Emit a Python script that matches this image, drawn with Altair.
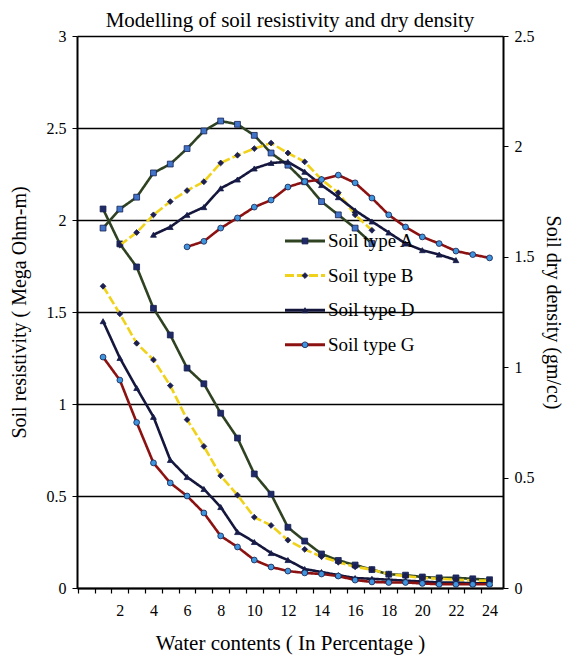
import altair as alt
import pandas as pd

# ---------------- data ----------------
water = list(range(1, 25))

res_A = [2.06, 1.87, 1.745, 1.52, 1.375, 1.195, 1.11, 0.95, 0.815, 0.62, 0.51, 0.33,
         0.255, 0.185, 0.15, 0.125, 0.10, 0.075, 0.07, 0.06, 0.055, 0.055, 0.05, 0.045]
res_B = [1.64, 1.49, 1.33, 1.24, 1.10, 0.915, 0.77, 0.61, 0.505, 0.385, 0.34, 0.26,
         0.21, 0.17, 0.14, 0.115, 0.10, 0.075, 0.065, 0.055, 0.05, 0.045, 0.04, 0.04]
res_D = [1.45, 1.25, 1.087, 0.93, 0.696, 0.603, 0.538, 0.44, 0.304, 0.25, 0.19, 0.152,
         0.103, 0.087, 0.07, 0.054, 0.05, 0.045, 0.04, 0.035, 0.03, 0.03, 0.025, 0.025]
res_G = [1.255, 1.13, 0.90, 0.68, 0.571, 0.50, 0.408, 0.283, 0.223, 0.152, 0.114, 0.092,
         0.082, 0.076, 0.065, 0.043, 0.033, 0.03, 0.03, 0.025, 0.02, 0.02, 0.02, 0.02]

dens_A_x = list(range(1, 18))
dens_A = [1.63, 1.716, 1.77, 1.88, 1.92, 1.99, 2.07, 2.115, 2.10, 2.05, 1.97, 1.915,
          1.84, 1.75, 1.69, 1.63, 1.56]
dens_B_x = list(range(2, 18))
dens_B = [1.553, 1.61, 1.69, 1.75, 1.80, 1.84, 1.925, 1.96, 1.99, 2.015, 1.97, 1.93,
          1.85, 1.79, 1.69, 1.62]
dens_D_x = list(range(4, 23))
dens_D = [1.60, 1.635, 1.69, 1.725, 1.81, 1.85, 1.90, 1.925, 1.93, 1.885, 1.825, 1.77,
          1.71, 1.66, 1.61, 1.56, 1.53, 1.51, 1.485]
dens_G_x = list(range(6, 25))
dens_G = [1.545, 1.57, 1.63, 1.676, 1.725, 1.757, 1.816, 1.84, 1.85, 1.87, 1.835, 1.766,
          1.69, 1.635, 1.59, 1.56, 1.526, 1.51, 1.495]

series = ["Soil type A", "Soil type B", "Soil type D", "Soil type G"]
left_ticks = [0, 0.5, 1, 1.5, 2, 2.5, 3]
right_ticks = [0, 0.5, 1, 1.5, 2, 2.5]
x_ticks = list(range(0, 25))

# ---------------- styling ----------------
FONT = "Liberation Serif, Times New Roman, serif"
line_colors = ["#2f4322", "#f0d21a", "#15163c", "#8c1212"]
dashes = [[1, 0], [9, 3], [1, 0], [1, 0]]
shapes = ["square", "diamond", "triangle-up", "circle"]
mk_domain = ["A", "A2", "B", "D", "G"]
mk_fill = ["#1f2a66", "#4174c8", "#1d1d50", "#1a1b46", "#3f95dd"]

# ---------------- tables ----------------
res_rows, dens_rows = [], []
for s, vals in zip(series, [res_A, res_B, res_D, res_G]):
    for x, v in zip(water, vals):
        res_rows.append({"x": x, "v": v, "s": s, "mk": s[-1]})
for s, xs, vals in zip(series, [dens_A_x, dens_B_x, dens_D_x, dens_G_x],
                       [dens_A, dens_B, dens_D, dens_G]):
    for x, v in zip(xs, vals):
        mk = "A2" if s.endswith("A") else s[-1]
        dens_rows.append({"x": x, "v": v, "s": s, "mk": mk})
res_df = pd.DataFrame(res_rows)
dens_df = pd.DataFrame(dens_rows)
leg_df = pd.DataFrame({"s": series, "i": list(range(len(series))),
                       "mk": [s[-1] for s in series]})

W, H = 426, 552

xscale = alt.Scale(domain=[-0.55, 24.8], nice=False, zero=False)
xaxis = alt.Axis(values=x_ticks,
                 labelExpr="datum.value > 0 && datum.value % 2 == 0 ? datum.label : ''",
                 tickOffset=-8.4, labelOffset=8.4, tickSize=5, tickColor="black",
                 tickWidth=1.2, domainColor="black", domainWidth=2, grid=False,
                 labelFont=FONT, labelFontSize=16, labelColor="black", labelPadding=9,
                 title="Water contents ( In Percentage )", titleFont=FONT,
                 titleFontSize=21, titleFontWeight="normal", titleColor="black",
                 titlePadding=14)

color = alt.Color("s:N", scale=alt.Scale(domain=series, range=line_colors), legend=None)
dash = alt.StrokeDash("s:N", scale=alt.Scale(domain=series, range=dashes), legend=None)
shape = alt.Shape("s:N", scale=alt.Scale(domain=series, range=shapes), legend=None)
fill = alt.Fill("mk:N", scale=alt.Scale(domain=mk_domain, range=mk_fill), legend=None)

yl = alt.Y("v:Q", scale=alt.Scale(domain=[0, 3], nice=False),
           axis=alt.Axis(values=left_ticks, format="~g", grid=True, gridColor="black",
                         gridWidth=1.6, gridOpacity=1, domainColor="black", domainWidth=2,
                         tickColor="black", tickSize=5, labelFont=FONT, labelFontSize=16,
                         labelColor="black", labelPadding=6,
                         title="Soil resistivity ( Mega Ohm-m)", titleFont=FONT,
                         titleFontSize=20, titleFontWeight="normal", titleColor="black",
                         titlePadding=17))
yr = alt.Y("v:Q", scale=alt.Scale(domain=[0, 2.5], nice=False),
           axis=alt.Axis(orient="right", values=right_ticks, format="~g", grid=False,
                         domainColor="black", domainWidth=2, tickColor="black",
                         tickSize=5, labelFont=FONT, labelFontSize=16, labelColor="black",
                         labelPadding=6,
                         title="Soil dry density (gm/cc)", titleFont=FONT,
                         titleFontSize=20, titleFontWeight="normal", titleColor="black",
                         titlePadding=8))

X = alt.X("x:Q", scale=xscale, axis=xaxis)


def layer_for(df, y):
    base = alt.Chart(df)
    lines = base.mark_line(strokeWidth=2.6).encode(x=X, y=y, color=color,
                                                    strokeDash=dash, detail="s:N")
    pts = base.mark_point(filled=True, size=34, stroke="#14204e",
                          strokeWidth=0.8, opacity=1).encode(x=X, y=y, shape=shape,
                                                             fill=fill)
    return alt.layer(lines, pts)


left = layer_for(res_df, yl)
right = layer_for(dens_df, yr)

# legend drawn inside the plot (pixel placement inside plot area)
lbase = alt.Chart(leg_df).transform_calculate(ly="205 + datum.i * 34.6")
LY = alt.Y("ly:Q", scale=None)
leg_line = lbase.mark_rule(strokeWidth=3).encode(
    x=alt.value(208), x2=alt.value(248), y=LY, color=color, strokeDash=dash)
leg_pt = lbase.mark_point(filled=True, size=34, stroke="#14204e", strokeWidth=0.8,
                          opacity=1).encode(x=alt.value(228), y=LY, shape=shape,
                                            fill=fill)
leg_txt = lbase.mark_text(align="left", baseline="middle", font=FONT, fontSize=19,
                          color="black").encode(x=alt.value(251), y=LY, text="s:N")
legend = alt.layer(leg_line, leg_pt, leg_txt)

chart = alt.layer(left, right, legend).resolve_scale(
    y="independent"
).properties(
    width=W, height=H,
    title=alt.TitleParams("Modelling of soil resistivity and dry density", font=FONT,
                          fontSize=21, fontWeight="normal", color="black",
                          anchor="middle", offset=-3),
    autosize=alt.AutoSizeParams(type="none"),
    padding={"left": 69, "top": 28, "right": 61, "bottom": 69},
).configure_view(
    stroke=None
).configure_axis(
    labelFont=FONT, titleFont=FONT
).configure_title(
    font=FONT
).configure_text(
    font=FONT
).configure(background="white", font=FONT)

chart.save("out.html", embed_options={"renderer": "svg", "actions": False})
